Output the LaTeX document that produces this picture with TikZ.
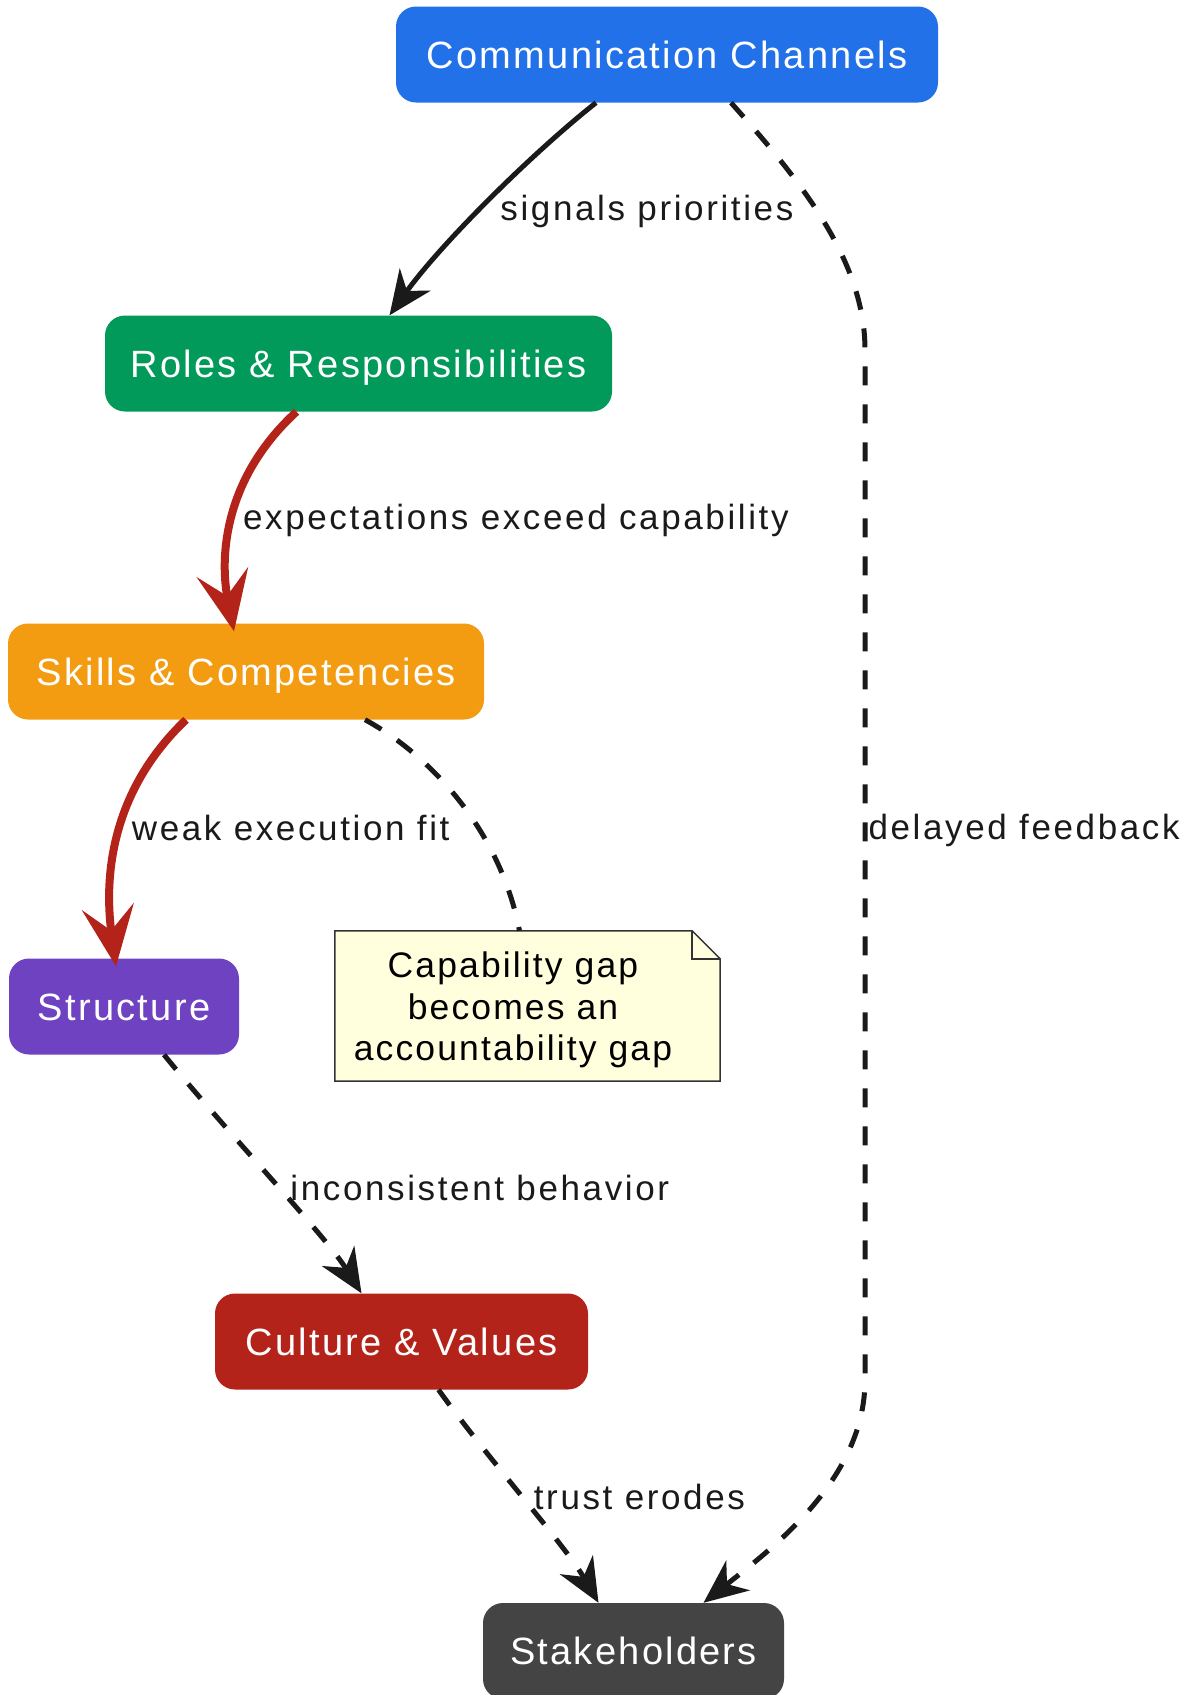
\documentclass[tikz,border=0pt]{standalone}
\usepackage{fontspec}
\setmainfont{Liberation Sans}[LetterSpace=6]
\newfontfamily\labelfont{Liberation Sans}[LetterSpace=7.5]
\usetikzlibrary{arrows.meta}
\definecolor{cblue}{HTML}{2271E8}
\definecolor{cgreen}{HTML}{029A5A}
\definecolor{corange}{HTML}{F39C12}
\definecolor{cpurple}{HTML}{6F42C1}
\definecolor{cred}{HTML}{B4231A}
\definecolor{cgray}{HTML}{444444}
\definecolor{cline}{HTML}{1A1A1A}
\definecolor{cnote}{HTML}{FFFFDE}
\definecolor{cnoteline}{HTML}{333333}
\tikzset{
  box/.style={rounded corners=20pt, minimum height=96pt, inner xsep=4pt, inner ysep=0pt,
    text height=27.2pt, text depth=0pt,
    text=white, font=\fontsize{38pt}{44pt}\selectfont},
  elabel/.style={font=\labelfont\fontsize{35pt}{41pt}\selectfont, text=cline, inner sep=3pt, anchor=west},
  blackarrow/.style={draw=cline, line width=5pt, -{Stealth[length=44pt,width=38pt,inset=14pt]}},
  dasharrow/.style={blackarrow, dash pattern=on 19pt off 19pt},
  redarrow/.style={draw=cred, line width=8pt, -{Stealth[length=60pt,width=52pt,inset=24pt]}},
  noteline/.style={draw=cnoteline, line width=1.5pt},
  notetxt/.style={font=\fontsize{35.5pt}{41.5pt}\selectfont, align=center, text=black, inner sep=0pt}
}
\begin{document}
\begin{tikzpicture}[x=1pt,y=-1pt]
\useasboundingbox (0,0) rectangle (1189,1695);
\fill[white] (0,0) rectangle (1189,1695);

\node[box, fill=cblue, minimum width=542pt] (comm) at (667,54.5) {Communication Channels};
\node[box, fill=cgreen, minimum width=507pt] (roles) at (358.5,363.5) {Roles \& Responsibilities};
\node[box, fill=corange, minimum width=476pt] (skills) at (246,671.5) {Skills \& Competencies};
\node[box, fill=cpurple, minimum width=230pt] (structure) at (124,1006.5) {Structure};
\node[box, fill=cred, minimum width=373pt] (culture) at (401.5,1341.5) {Culture \& Values};
\node[box, fill=cgray, minimum width=301pt] (stake) at (633.5,1651) {Stakeholders};

% note
\node[draw=none, minimum width=385pt, minimum height=150pt, inner sep=0pt] (note) at (527.5,1006) {};
\fill[cnote] (note.north west) -- ([xshift=-28pt]note.north east) -- ([yshift=-28pt]note.north east)
  -- (note.south east) -- (note.south west) -- cycle;
\draw[noteline, line join=miter] (note.north west) -- ([xshift=-28pt]note.north east) -- ([yshift=-28pt]note.north east)
  -- (note.south east) -- (note.south west) -- cycle;
\draw[noteline] ([xshift=-28pt]note.north east) -- ([xshift=-28pt,yshift=-28pt]note.north east) -- ([yshift=-28pt]note.north east);
\node[notetxt] (notetext) at (513,1010) {Capability gap\\becomes an\\accountability gap};

% edges
\draw[blackarrow] ([xshift=-71pt]comm.south) .. controls (530,155) and (440,245) ..
  node[elabel, pos=0.5, xshift=8pt, yshift=-9pt] {signals priorities} ([xshift=31pt]roles.north);
\draw[redarrow] ([xshift=-62pt]roles.south) .. controls (222,480) and (220,560) ..
  node[elabel, pos=0.5, xshift=4pt] {expectations exceed capability} ([xshift=-12pt,yshift=-8pt]skills.north);
\draw[redarrow] ([xshift=-60pt]skills.south) .. controls (106,796) and (105,886) ..
  node[elabel, pos=0.5, xshift=8pt, yshift=14pt] {weak execution fit} ([xshift=-8pt,yshift=-8pt]structure.north);
\draw[dasharrow] ([xshift=40pt]structure.south) .. controls (225,1130) and (325,1235) ..
  node[elabel, pos=0.5, xshift=13pt, yshift=-8pt] {inconsistent behavior} ([xshift=-40pt]culture.north);
\draw[dasharrow] ([xshift=37pt]culture.south) .. controls (485,1455) and (565,1545) ..
  node[elabel, pos=0.5, xshift=5pt, yshift=2pt] {trust erodes} ([xshift=-35pt]stake.north);
\draw[dasharrow] ([xshift=64pt]comm.south) .. controls (800,180) and (865,260) .. (865,350)
  -- node[elabel, pos=0.466, xshift=-2pt] {delayed feedback} (865,1380)
  .. controls (865,1480) and (770,1550) .. ([xshift=70pt]stake.north);
\draw[draw=cline, line width=5pt, dash pattern=on 19pt off 19pt] ([xshift=119pt]skills.south)
  .. controls (430,755) and (500,830) .. ([xshift=-8pt]note.north);
\end{tikzpicture}
\end{document}
